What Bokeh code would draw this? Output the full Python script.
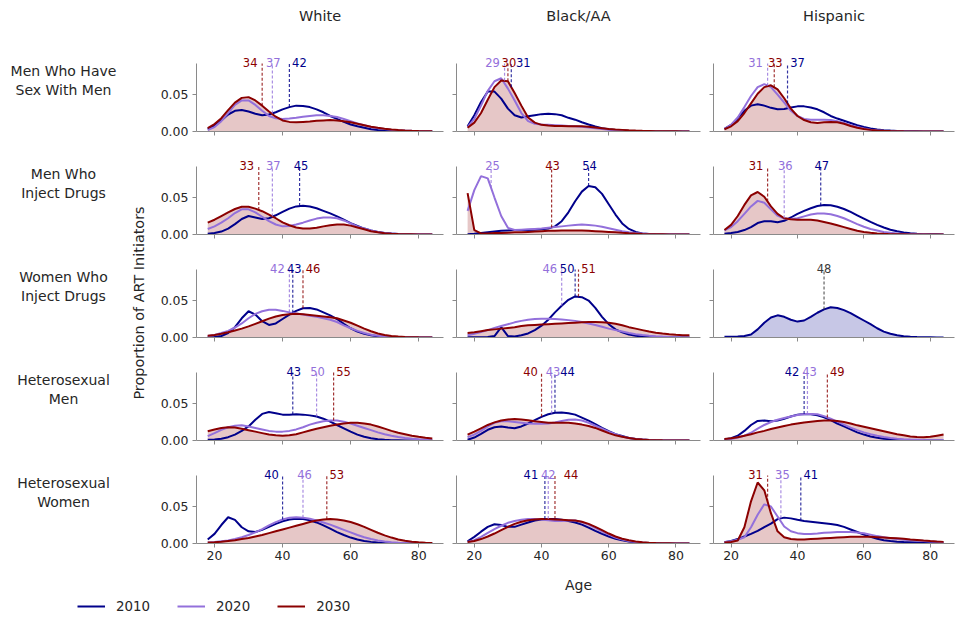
import numpy as np
from bokeh.plotting import figure
from bokeh.models import (Range1d, FixedTicker, NumeralTickFormatter, CustomJSTickFormatter,
                          ColumnDataSource, Legend, LegendItem, Spacer)
from bokeh.layouts import column, row
from bokeh.embed import file_html
from bokeh.resources import INLINE
from bokeh.core.properties import value

# ---------------------------------------------------------------- data
AGES = list(range(18, 85, 2))
YEARS = ["2010", "2020", "2030"]
RACES = ["White", "Black/AA", "Hispanic"]
GROUPS = ["Men Who Have\nSex With Men", "Men Who\nInject Drugs", "Women Who\nInject Drugs",
          "Heterosexual\nMen", "Heterosexual\nWomen"]

# density values x 1000, read at AGES
WHITE_MSM_2010 = [3.6, 8, 15, 23, 28, 29, 27, 24, 22, 23, 26, 30, 33, 35, 34.5, 33, 30, 26, 21, 17, 13, 9.5, 7, 5, 3, 2, 1.2, 0.7, 0.4, 0.2, 0.1, 0, 0, 0]
WHITE_MSM_2020 = [2, 6, 14, 25, 36, 42, 42, 36, 28, 21, 18, 17, 17.5, 18.5, 20, 21, 22, 22, 21, 19.5, 17, 14, 11, 8.5, 6, 4.5, 3.3, 2.5, 1.8, 1.3, 0.9, 0.6, 0.4, 0.3]
WHITE_MSM_2030 = [4.5, 10, 18, 29, 39, 45.5, 46.5, 42, 35, 27, 20, 15, 13, 12.5, 13, 13.5, 14.5, 15, 15.5, 15, 14, 12.5, 10.5, 8.5, 6.5, 5, 3.8, 2.8, 2, 1.4, 1, 0.7, 0.5, 0.3]
BLACK_MSM_2010 = [7, 22, 40, 54, 54, 44.5, 31, 22, 19, 20.5, 22, 23.5, 24, 23.5, 22, 18.5, 16, 12.5, 9.5, 6.8, 4.5, 3, 2, 1.3, 0.8, 0.5, 0.3, 0.2, 0.1, 0, 0, 0, 0, 0]
BLACK_MSM_2020 = [6, 17, 35, 55, 68, 72, 58, 42, 25, 14, 10.5, 9.5, 9, 8.5, 8, 7.5, 7, 6.5, 5.5, 4.5, 3.5, 2.5, 1.8, 1.2, 0.8, 0.5, 0.3, 0.2, 0.1, 0, 0, 0, 0, 0]
BLACK_MSM_2030 = [5, 12, 25, 43, 60, 69, 68, 52, 35, 19, 12, 9, 8, 7.5, 7.5, 7, 7, 7, 6.5, 5.5, 4.5, 3.5, 2.8, 2.2, 1.6, 1.2, 0.9, 0.7, 0.5, 0.4, 0.3, 0.2, 0.1, 0.1]
HISP_MSM_2010 = [3.6, 9, 18, 28, 35, 37, 35, 32, 30, 30.5, 32.5, 34, 34, 32.5, 30, 26, 21, 17.5, 14.5, 11.5, 8.5, 6, 4, 2.8, 1.8, 1.2, 0.8, 0.5, 0.3, 0.2, 0.1, 0, 0, 0]
HISP_MSM_2020 = [3.6, 9, 19, 33, 48, 60, 64, 60, 50, 39, 28, 21, 17, 16, 16, 16, 15.5, 14, 11.5, 8.5, 6, 4, 2.5, 1.6, 1, 0.6, 0.4, 0.2, 0.1, 0, 0, 0, 0, 0]
HISP_MSM_2030 = [3, 7, 14, 25, 38, 51, 60, 62.5, 57, 45, 31, 21, 15.5, 12.5, 11.5, 12.5, 13, 12.5, 10.5, 7.5, 5, 3.3, 2.2, 1.4, 0.9, 0.6, 0.4, 0.2, 0.1, 0, 0, 0, 0, 0]

WHITE_MWID_2010 = [1, 2, 4, 8, 14, 21, 25, 23, 21, 22, 26, 30.5, 35, 38, 39, 38, 35.5, 32, 28.5, 24.5, 20, 15.5, 11.5, 8, 5.5, 3.5, 2.2, 1.3, 0.7, 0.4, 0.2, 0.1, 0, 0]
WHITE_MWID_2020 = [7.5, 11, 16, 22, 29, 34, 34, 30, 24, 18, 13.5, 11, 11.5, 13.5, 16, 19, 21.5, 23, 23, 22, 19, 15, 11, 8, 5.5, 3.5, 2.2, 1.4, 0.8, 0.5, 0.3, 0.2, 0.1, 0]
WHITE_MWID_2030 = [16, 20, 25, 30, 34.5, 37.5, 37.5, 35, 31.5, 27, 22, 16.5, 12.5, 9.5, 8, 8, 9, 11, 12.5, 13.5, 13.5, 12, 9.5, 7, 4.5, 3, 1.8, 1, 0.6, 0.3, 0.2, 0.1, 0, 0]
BLACK_MWID_2010 = [0.5, 1, 2, 3, 4, 5, 5.5, 6, 6, 6, 6.5, 7, 8, 11, 18, 30, 45, 58, 65.5, 64, 55, 41, 27, 15, 7.5, 3.5, 1.5, 0.6, 0.2, 0.1, 0, 0, 0, 0]
BLACK_MWID_2020 = [32, 60, 79, 76, 50, 25, 9, 6, 6.5, 7, 7.5, 8, 9, 10, 11, 12, 13, 13.5, 13, 12, 10.5, 8.5, 6.5, 4.5, 3, 2, 1.2, 0.7, 0.4, 0.2, 0.1, 0, 0, 0]
BLACK_MWID_2030 = [56, 6, 1.5, 1.5, 2, 2, 2.5, 3, 3, 3.5, 4, 4.5, 5, 5, 5.5, 5.5, 5.5, 5.5, 5, 4.5, 4, 3.5, 3, 2.3, 1.7, 1.2, 0.8, 0.5, 0.3, 0.2, 0.1, 0, 0, 0]
HISP_MWID_2010 = [1, 2, 3.5, 6, 10, 15.5, 18, 18, 16.5, 18.5, 23, 28, 32, 35.5, 38.5, 40, 39.5, 37.5, 34.5, 30.5, 26, 21.5, 17, 13, 9.5, 6.5, 4.3, 2.7, 1.6, 0.9, 0.5, 0.3, 0.2, 0.1]
HISP_MWID_2020 = [5.5, 10, 18, 28, 38, 45.5, 43, 34, 25.5, 21.5, 21, 22, 24.5, 27, 28.5, 28.5, 27.5, 25, 22, 18, 14, 10.5, 7.5, 5.5, 3.5, 2.3, 1.4, 0.8, 0.5, 0.3, 0.2, 0.1, 0, 0]
HISP_MWID_2030 = [6, 13, 25, 40, 53, 57.5, 51, 38, 28, 22, 20.5, 20, 20, 20, 19, 17, 15, 12.5, 10, 7.5, 5, 3.5, 2.3, 1.5, 0.9, 0.5, 0.3, 0.2, 0.1, 0, 0, 0, 0, 0]

WHITE_WWID_2010 = [0.5, 0.8, 2, 6, 14, 26, 35.5, 31, 22, 17, 19, 25, 31, 36, 39.5, 40, 38, 34, 30, 25, 18.5, 12.5, 8, 5, 3, 1.8, 1, 0.5, 0.3, 0.1, 0, 0, 0, 0]
WHITE_WWID_2020 = [2, 3.5, 6, 9, 13.5, 19, 26, 32, 35.5, 37.5, 37.5, 36, 34, 32.5, 31, 29.5, 28, 26, 24, 21, 16.5, 12.5, 9, 6, 3.8, 2.3, 1.3, 0.7, 0.4, 0.2, 0.1, 0, 0, 0]
WHITE_WWID_2030 = [2.5, 3.5, 5, 7, 9.5, 12, 15, 18.5, 22, 25.5, 28.5, 30.5, 31.5, 32, 31.5, 30.5, 29.5, 28.5, 27.5, 26, 23, 20, 16, 12, 8.5, 5.5, 3.5, 2, 1.2, 0.7, 0.4, 0.2, 0.1, 0]
BLACK_WWID_2010 = [0.5, 0.5, 0.5, 0.7, 2, 14, 2, 1.5, 3, 5.5, 10, 16, 24, 34, 43, 51, 55.5, 54.5, 50, 40, 28, 18, 11, 7, 4, 2.3, 1.2, 0.6, 0.3, 0.1, 0, 0, 0, 0]
BLACK_WWID_2020 = [3, 5, 7.5, 10, 13, 15.5, 18, 20.5, 22.5, 24, 25, 25.5, 25.5, 25, 24.5, 23.5, 22.5, 21, 19, 17, 14.5, 12, 10, 8, 6, 4.5, 3.3, 2.4, 1.7, 1.2, 0.8, 0.5, 0.3, 0.2]
BLACK_WWID_2030 = [6, 7, 8.5, 10, 11, 12, 13, 14, 15.5, 16.5, 17, 17.5, 18, 18.5, 19, 19.5, 20, 20.5, 21, 21, 20.5, 20, 18.5, 16.5, 14, 12, 10, 8, 6.5, 5.3, 4.3, 3.6, 3.2, 3]
HISP_WWID_2010 = [1, 1, 1.2, 2, 4, 11, 20, 27, 30, 28, 24, 21.5, 23, 28, 33.5, 38, 41, 40, 37, 33, 28, 23, 18, 12.5, 8, 5, 3, 1.8, 1, 0.6, 0.3, 0.2, 0.1, 0]

WHITE_HM_2010 = [1, 1.5, 2.5, 4.5, 8, 13, 19, 28, 36, 38.5, 37, 35, 35, 35.5, 35, 34, 32.5, 29.5, 25.5, 21, 16.5, 12, 8, 5, 3, 1.8, 1, 0.5, 0.3, 0.1, 0, 0, 0, 0]
WHITE_HM_2020 = [6, 10, 14.5, 18, 20, 20.5, 19, 17, 15, 13, 12, 12, 13, 15, 18, 21.5, 24, 26, 27, 27, 25.5, 23, 20, 17, 14, 11, 8.5, 6.5, 4.8, 3.5, 2.5, 1.8, 1.3, 1]
WHITE_HM_2030 = [12.5, 15, 17, 18, 17.5, 16, 14, 12, 10, 8, 7, 6.5, 7, 8.5, 11, 13.5, 16, 18, 20, 21.5, 23, 24, 24, 23, 21.5, 19, 16, 13, 10.5, 8.5, 6.5, 5, 3.8, 2.7]
BLACK_HM_2010 = [1, 4, 9, 14.5, 18, 19, 17.5, 16.5, 19, 23, 27.5, 32, 35.5, 37.5, 38, 37, 35, 31, 27, 22, 17, 12.5, 8.5, 6, 3.5, 2.2, 1.2, 0.6, 0.3, 0.1, 0, 0, 0, 0]
BLACK_HM_2020 = [4.5, 8, 13, 19, 24, 26, 26, 25, 24, 23, 22.5, 22.5, 23, 24.5, 26.5, 28, 28.5, 27, 24, 20, 16, 12, 8.5, 5.5, 3.5, 2, 1.2, 0.6, 0.3, 0.1, 0, 0, 0, 0]
BLACK_HM_2030 = [8, 12, 16.5, 21, 24.5, 27, 28.5, 29, 28.5, 27.5, 26, 25, 24, 24, 24, 24, 23, 21.5, 19.5, 17, 13.5, 10, 7, 5, 3.5, 2, 1.2, 0.7, 0.4, 0.2, 0.1, 0, 0, 0]
HISP_HM_2010 = [1.3, 3, 6.5, 13, 21, 26.5, 27, 26, 27, 29.5, 32.5, 35, 36, 35.5, 34, 31.5, 27.5, 23, 19, 15, 11, 8, 5.5, 3.8, 2.5, 1.6, 1, 0.6, 0.4, 0.2, 0.1, 0.1, 0, 0]
HISP_HM_2020 = [1, 2, 4, 6.5, 10.5, 16, 21, 25, 28, 30.5, 32.5, 34.5, 36, 36, 35.5, 33, 29.5, 25.5, 21.5, 17.5, 14, 11, 8.5, 6.5, 4.8, 3.3, 2.3, 1.6, 1.2, 0.9, 0.6, 0.4, 0.3, 0.2]
HISP_HM_2030 = [2, 3, 4.5, 6.5, 8.5, 11, 13, 15.5, 17.5, 19.5, 21.5, 23, 24.5, 25.5, 26.5, 27, 27, 26.5, 25, 23, 20.5, 18.5, 16.5, 14.5, 12.5, 10.5, 8.5, 7, 5.5, 4.7, 4.5, 5, 6.5, 8]

WHITE_HW_2010 = [5.5, 13, 25, 35.5, 32, 22, 16.5, 15.5, 18.5, 22.5, 26.5, 30, 32.5, 33.5, 33, 31.5, 28.5, 24.5, 20, 15.5, 11.5, 8, 5.5, 3.5, 2.2, 1.3, 0.8, 0.4, 0.2, 0.1, 0, 0, 0, 0]
WHITE_HW_2020 = [1.3, 2, 3, 4, 6, 8.5, 11.5, 15, 19.5, 24.5, 29, 32.5, 35, 35.5, 35, 33.5, 31, 28.5, 25.5, 22, 18.5, 15, 11.5, 8.5, 6, 4, 2.7, 1.7, 1, 0.6, 0.3, 0.2, 0.1, 0]
WHITE_HW_2030 = [1.3, 1.8, 2.5, 3.5, 4.5, 6, 7.5, 9.5, 11.5, 14, 16.5, 19, 21.5, 24, 26.5, 29, 31, 32.5, 33, 32.5, 31, 29, 26, 22.5, 18.5, 14.5, 11, 8, 5.5, 3.8, 2.5, 1.6, 1, 0.6]
BLACK_HW_2010 = [3, 9, 16, 22.5, 26, 25, 22.5, 22.5, 25.5, 28.5, 31, 32.5, 33, 33, 32, 30.5, 28.5, 25.5, 21.5, 17, 13, 9.5, 6.5, 4.3, 2.7, 1.6, 0.9, 0.5, 0.3, 0.1, 0, 0, 0, 0]
BLACK_HW_2020 = [2, 4.5, 9, 14.5, 19.5, 24, 28, 30.5, 32, 33, 33, 32.5, 31.5, 30.5, 30.5, 31, 31, 29, 25.5, 21, 16.5, 12, 8, 5.5, 3.3, 2, 1.2, 0.6, 0.3, 0.1, 0, 0, 0, 0]
BLACK_HW_2030 = [2, 3.5, 6, 9.5, 13.5, 18, 22.5, 26.5, 29.5, 31.5, 32.5, 33, 33, 32.5, 32, 31.5, 31, 29.5, 26.5, 22.5, 18, 13.5, 9.5, 6.5, 4.3, 2.8, 1.7, 1, 0.6, 0.3, 0.2, 0.1, 0, 0]
HISP_HW_2010 = [1.8, 3.5, 6, 9.5, 13, 17, 22, 27, 33, 35, 34, 32, 30.5, 29.5, 28.5, 27.5, 26.5, 25, 22.5, 19, 15.5, 12, 9, 6.5, 4.5, 3.3, 2.5, 2, 1.7, 1.4, 1.1, 0.8, 0.6, 0.4]
HISP_HW_2020 = [2, 3, 5, 8.5, 22, 39, 53, 50, 36.5, 23, 16.5, 14, 13, 13, 13.5, 14.5, 15, 15.5, 15.5, 15.5, 15, 14, 12, 10, 8.5, 7, 6, 5, 4.5, 4, 3.3, 2.7, 2.2, 1.8]
HISP_HW_2030 = [1.3, 2, 4, 22, 57, 82.5, 72, 41, 16.5, 8.5, 6, 5.5, 5.5, 6, 6.5, 7, 7.5, 8, 8.5, 9, 9, 9, 9, 8.5, 8, 7.5, 7, 6.5, 5.5, 4.8, 4, 3.3, 2.7, 2.2]

# median age per group, in order 2010, 2020, 2030
MEDIAN_WHITE = [[42, 37, 34], [45, 37, 33], [43, 42, 46], [43, 50, 55], [40, 46, 53]]
MEDIAN_BLACK = [[31, 29, 30], [54, 25, 43], [50, 46, 51], [44, 43, 40], [41, 42, 44]]
MEDIAN_HISP = [[37, 31, 33], [47, 36, 31], [48, None, None], [42, 43, 49], [41, 35, 31]]

DENS = {
    "White": [[WHITE_MSM_2010, WHITE_MSM_2020, WHITE_MSM_2030],
              [WHITE_MWID_2010, WHITE_MWID_2020, WHITE_MWID_2030],
              [WHITE_WWID_2010, WHITE_WWID_2020, WHITE_WWID_2030],
              [WHITE_HM_2010, WHITE_HM_2020, WHITE_HM_2030],
              [WHITE_HW_2010, WHITE_HW_2020, WHITE_HW_2030]],
    "Black/AA": [[BLACK_MSM_2010, BLACK_MSM_2020, BLACK_MSM_2030],
                 [BLACK_MWID_2010, BLACK_MWID_2020, BLACK_MWID_2030],
                 [BLACK_WWID_2010, BLACK_WWID_2020, BLACK_WWID_2030],
                 [BLACK_HM_2010, BLACK_HM_2020, BLACK_HM_2030],
                 [BLACK_HW_2010, BLACK_HW_2020, BLACK_HW_2030]],
    "Hispanic": [[HISP_MSM_2010, HISP_MSM_2020, HISP_MSM_2030],
                 [HISP_MWID_2010, HISP_MWID_2020, HISP_MWID_2030],
                 [HISP_WWID_2010, None, None],
                 [HISP_HM_2010, HISP_HM_2020, HISP_HM_2030],
                 [HISP_HW_2010, HISP_HW_2020, HISP_HW_2030]],
}
MEDIANS = {"White": MEDIAN_WHITE, "Black/AA": MEDIAN_BLACK, "Hispanic": MEDIAN_HISP}

# ---------------------------------------------------------------- layout / style
# horizontal pixel nudges of the median labels (to keep them apart)
LABEL_DX = {
    "White": [[10, 1, -12], [1.5, 1, -12], [1.5, -12, 10], [1, 1, 10], [-11, 1.5, 10]],
    "Black/AA": [[12, -12, 1], [1, 1.5, 1], [-8, -12, 10], [12.5, 1.5, -11], [-14, 0, 16]],
    "Hispanic": [[10, -12, 1], [1, 1, -11.5], [0, 0, 0], [-12, 2, 10], [10, 1.5, -12]],
}
FONT = "DejaVu Sans"
COLORS = ["#00008B", "#9370DB", "#8B0000"]
SINGLE_C = "#3a3a3a"
AXIS_C = "#8a8a8a"
TEXT_C = "#262626"
XR = (14.7, 87.3)
Y_SPINE = 0.092
FRAME_H = 80
Y_END = Y_SPINE * FRAME_H / 68.0
COL_FW = [247, 244, 241]
COL_BL = [48, 8, 8]
COL_BR = [5, 5, 1]
LABEL_W = 123
YLAB_W = 25
ROW_T = 13
ROW_B = [10, 10, 10, 10, 55]
TITLE_H = 38
LEG_H = 16
ROW_H = [ROW_T + FRAME_H + b for b in ROW_B]


def style_axis(ax, show_labels, standoff):
    ax.axis_line_color = AXIS_C
    ax.major_tick_line_color = AXIS_C
    ax.major_tick_out = 4
    ax.major_tick_in = 0
    ax.minor_tick_line_color = None
    ax.major_label_text_font = FONT
    ax.major_label_text_color = TEXT_C
    ax.axis_label_text_font = FONT
    ax.axis_label_text_font_style = "normal"
    ax.axis_label_text_color = TEXT_C
    if show_labels:
        ax.major_label_text_font_size = "12.5px"
        ax.major_label_standoff = standoff
    else:
        ax.formatter = CustomJSTickFormatter(code="return ''")
        ax.major_label_text_font_size = "0px"
        ax.major_label_standoff = 0


def blank_fig(fw, fh, xr, yr, bl=0, br=0, bt=0, bb=0):
    f = figure(frame_width=fw, frame_height=fh, x_range=Range1d(*xr), y_range=Range1d(*yr),
               min_border_left=bl, min_border_right=br, min_border_top=bt, min_border_bottom=bb,
               x_axis_type=None, y_axis_type=None,
               toolbar_location=None, output_backend="svg", title=None)
    f.outline_line_color = None
    return f


def panel(ci, ri):
    race = RACES[ci]
    p = figure(frame_width=COL_FW[ci], frame_height=FRAME_H,
               x_range=Range1d(*XR), y_range=Range1d(0, Y_END),
               min_border_left=COL_BL[ci], min_border_right=COL_BR[ci],
               min_border_top=ROW_T, min_border_bottom=ROW_B[ri],
               toolbar_location=None, output_backend="svg", title=None)
    p.outline_line_color = None
    p.xgrid.grid_line_color = None
    p.ygrid.grid_line_color = None
    p.xaxis.ticker = FixedTicker(ticks=[20, 40, 60, 80])
    p.yaxis.ticker = FixedTicker(ticks=[0, 0.05])
    p.yaxis.formatter = NumeralTickFormatter(format="0.00")
    p.yaxis.bounds = (0, Y_SPINE)
    style_axis(p.xaxis[0], ri == 4, 3)
    style_axis(p.yaxis[0], ci == 0, 4)
    if ci == 1 and ri == 4:
        p.xaxis.axis_label = "Age"
        p.xaxis.axis_label_text_font_size = "14px"
        p.xaxis.axis_label_standoff = 14

    series = DENS[race][ri]
    meds = MEDIANS[race][ri]
    present = [k for k in range(3) if series[k] is not None]
    single = len(present) == 1
    last = present[-1]
    curves = {k: np.array(series[k], dtype=float) / 1000.0 for k in present}

    p.varea(x=AGES, y1=0, y2=curves[last], fill_color=COLORS[last], fill_alpha=0.22)
    for k in present:
        p.line(AGES, curves[k], line_color=COLORS[k], line_width=2)

    mx, y0, y1, cols, txt, dx, ty = [], [], [], [], [], [], []
    for k in present:
        m = meds[k]
        mx.append(m)
        y0.append(max(float(np.interp(m, AGES, curves[j])) for j in present))
        y1.append(Y_SPINE)
        cols.append(SINGLE_C if single else COLORS[k])
        txt.append(str(m))
        dx.append(LABEL_DX[race][ri][k])
        ty.append(Y_SPINE + 0.0015)
    src = ColumnDataSource(dict(m=mx, y0=y0, y1=y1, c=cols, t=txt, dx=dx, ty=ty))
    p.segment(x0="m", y0="y0", x1="m", y1="y1", line_color="c", line_dash="3 2",
              line_width=1.2, line_alpha=0.8, source=src)
    p.text(x="m", y="ty", text="t", text_color="c", x_offset="dx", source=src,
           text_align="center", text_baseline="alphabetic",
           text_font=value(FONT), text_font_size="11.5px")
    return p


def label_fig(ri):
    f = blank_fig(LABEL_W, FRAME_H, (0, LABEL_W), (0, FRAME_H), bt=ROW_T, bb=ROW_B[ri])
    f.text(x=[63], y=[51], text=[GROUPS[ri]], text_align="center", text_baseline="middle",
           text_font=value(FONT), text_font_size="14px", text_color=TEXT_C,
           text_line_height=1.2)
    return f


def ylabel_fig():
    h = sum(ROW_H)
    f = blank_fig(YLAB_W, h, (0, YLAB_W), (0, h))
    f.text(x=[15], y=[h - (302.5 - TITLE_H)], text=["Proportion of ART Initiators"],
           angle=np.pi / 2, text_align="center", text_baseline="middle",
           text_font=value(FONT), text_font_size="14.4px", text_color=TEXT_C)
    return f


def title_fig(ci):
    f = blank_fig(COL_FW[ci], TITLE_H, XR, (0, TITLE_H), bl=COL_BL[ci], br=COL_BR[ci])
    f.text(x=[(XR[0] + XR[1]) / 2], y=[TITLE_H - 15], text=[RACES[ci]], text_align="center",
           text_baseline="middle", text_font=value(FONT), text_font_size="14.5px",
           text_color=TEXT_C)
    return f


def legend_fig():
    f = blank_fig(380, LEG_H, (0, 1), (0, 1))
    items = []
    for k, yr in enumerate(YEARS):
        # legend swatches reuse the first panel's series (renderer itself hidden)
        r = f.line(AGES, np.array(DENS["White"][0][k]) / 1000.0, line_color=COLORS[k],
                   line_width=2, visible=False)
        items.append(LegendItem(label=yr, renderers=[r]))
    leg = Legend(items=items, location=(77, 0), orientation="horizontal",
                 glyph_width=28, glyph_height=LEG_H, label_height=LEG_H,
                 label_standoff=11, spacing=27, padding=0, margin=0,
                 border_line_color=None, background_fill_alpha=0,
                 label_text_font=FONT, label_text_font_size="13.4px",
                 label_text_color=TEXT_C)
    f.add_layout(leg)
    return f


title_row = row(Spacer(width=LABEL_W + YLAB_W, height=TITLE_H), *[title_fig(ci) for ci in range(3)])
labels_col = column(*[label_fig(ri) for ri in range(5)])
panels_col = column(*[row(*[panel(ci, ri) for ci in range(3)]) for ri in range(5)])
middle = row(labels_col, ylabel_fig(), panels_col)
layout = column(title_row, middle, row(legend_fig()))

open("out.html", "w").write(file_html(layout, INLINE))
